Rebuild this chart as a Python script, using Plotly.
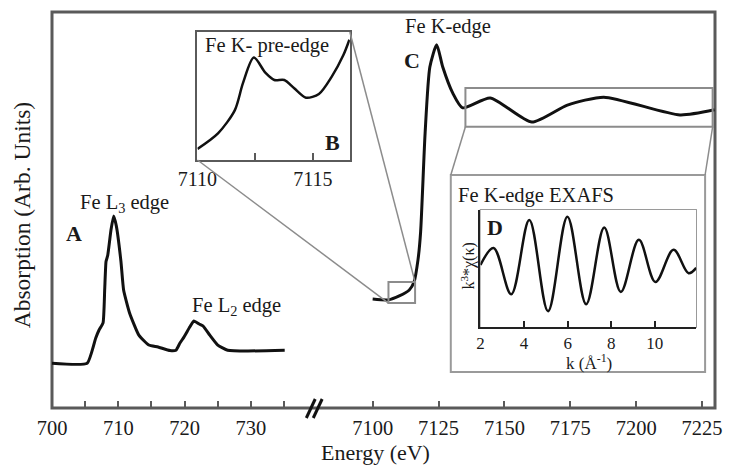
import plotly.graph_objects as go

# ---------------- data ----------------
# Fe L-edge (main panel, left segment)
l_energy = [700, 705.3, 706.6, 707.1, 707.7, 707.95, 708.15, 708.4, 708.9, 709.3, 709.7, 710.4, 710.8,
            711.7, 713.1, 714.6, 716.0, 717.8, 718.7, 719.3, 719.9, 720.8, 721.4, 722.2, 722.8,
            723.8, 725.0, 726.5, 729.5, 735.1]
l_abs = [0.113, 0.113, 0.177, 0.197, 0.215, 0.30, 0.37, 0.385, 0.45, 0.485, 0.46, 0.37, 0.298,
         0.24, 0.184, 0.159, 0.154, 0.145, 0.146, 0.164, 0.179, 0.205, 0.220, 0.212, 0.207,
         0.184, 0.159, 0.146, 0.144, 0.146]

# Fe K-edge (main panel, right segment)
k_energy = [7100, 7106, 7110.1, 7113.9, 7115.7, 7117.2, 7118.2, 7119.9, 7121.7, 7124.3, 7126.6,
            7130.4, 7134.1, 7144.6, 7160.4, 7173.9, 7187.7, 7216.6, 7229.7]
k_abs = [0.275, 0.273, 0.283, 0.298, 0.318, 0.374, 0.445, 0.694, 0.861, 0.917, 0.861,
         0.795, 0.758, 0.783, 0.722, 0.765, 0.785, 0.740, 0.753]

# Inset B: pre-edge
pre_energy = [7110, 7110.9, 7111.62, 7111.97, 7112.44, 7112.95, 7113.33, 7113.76, 7114.19,
              7114.7, 7115.26, 7115.81, 7116.32, 7116.58]
pre_abs = [0.086, 0.21, 0.39, 0.60, 0.80, 0.68, 0.625, 0.625, 0.56, 0.487, 0.516, 0.65, 0.82, 0.94]

# Inset D: EXAFS
exafs_k = [2.0, 2.6, 3.41, 4.24, 5.1, 5.99, 6.85, 7.68, 8.44, 9.27, 10.03, 10.86, 11.55, 11.9]
exafs_chi = [0.06, 0.35, -0.44, 0.83, -0.73, 0.885, -0.61, 0.70, -0.40, 0.49, -0.23, 0.32, -0.08, 0.01]

main_ticks_left = [700, 705, 710, 715, 720, 725, 730, 735]
main_ticktext_left = ["700", "", "710", "", "720", "", "730", ""]
main_ticks_right = [7100, 7125, 7150, 7175, 7200, 7225]
pre_ticks = [7110, 7112.5, 7115]
pre_ticktext = ["7110", "", "7115"]
exafs_ticks = [2, 4, 6, 8, 10]

# ---------------- layout geometry ----------------
W, H = 732, 467
ML, MR, MT, MB = 52, 10, 12, 59
PW, PH = W - ML - MR, H - MT - MB


def pp(px, py):
    return (px - ML) / PW, (H - MB - py) / PH


FONT = "Liberation Serif"
TXT = "#1a1a1a"
FRAME = "#5a5a5a"
GRAY = "#8c8c8c"

dom1 = [0.0, 0.385]
rng1 = [700, 738.5]
dom2 = [0.395, 1.0]
rng2 = [7077.7, 7229.9]

bx0, by0 = pp(199, 160)
bx1, by1 = pp(353, 32)
dx0, dy0 = pp(485, 327)
dx1, dy1 = pp(703, 210)


def x2p(x):
    return dom2[0] + (x - rng2[0]) / (rng2[1] - rng2[0]) * (dom2[1] - dom2[0])


fig = go.Figure()
fig.add_trace(go.Scatter(x=l_energy, y=l_abs, mode="lines",
                         line=dict(color="#111111", width=3, shape="spline", smoothing=0.45),
                         xaxis="x", yaxis="y", hoverinfo="skip"))
fig.add_trace(go.Scatter(x=k_energy, y=k_abs, mode="lines",
                         line=dict(color="#111111", width=3, shape="spline", smoothing=0.6),
                         xaxis="x2", yaxis="y", hoverinfo="skip"))
fig.add_trace(go.Scatter(x=pre_energy, y=pre_abs, mode="lines",
                         line=dict(color="#111111", width=2.5, shape="spline", smoothing=0.8),
                         xaxis="x3", yaxis="y3", hoverinfo="skip"))
fig.add_trace(go.Scatter(x=exafs_k, y=exafs_chi, mode="lines",
                         line=dict(color="#111111", width=2.5, shape="spline", smoothing=1.0),
                         xaxis="x4", yaxis="y4", hoverinfo="skip"))

tickfont = dict(family=FONT, size=20.5, color=TXT)
fig.update_layout(
    width=W, height=H, margin=dict(l=ML, r=MR, t=MT, b=MB),
    paper_bgcolor="white", plot_bgcolor="white", showlegend=False,
    xaxis=dict(domain=dom1, range=rng1, tickvals=main_ticks_left, ticktext=main_ticktext_left,
               ticks="inside", ticklen=7, tickwidth=2, tickcolor=FRAME, showgrid=False,
               zeroline=False, showline=False, tickfont=tickfont, ticklabelstandoff=5),
    xaxis2=dict(domain=dom2, range=rng2, tickvals=main_ticks_right,
                ticks="inside", ticklen=7, tickwidth=2, tickcolor=FRAME, showgrid=False,
                zeroline=False, showline=False, tickfont=tickfont, ticklabelstandoff=5),
    yaxis=dict(domain=[0, 1], range=[0, 1], visible=False),
    xaxis3=dict(domain=[bx0, bx1], range=[7110, 7116.6], anchor="y3", tickvals=pre_ticks,
                ticktext=pre_ticktext, ticks="inside", ticklen=7, tickwidth=2, tickcolor=FRAME,
                showline=True, mirror=True, linecolor=FRAME, linewidth=2, showgrid=False,
                zeroline=False, tickfont=dict(family=FONT, size=20, color=TXT)),
    yaxis3=dict(domain=[by0, by1], range=[0, 1], anchor="x3", showticklabels=False,
                ticks="", showline=True, mirror=True, linecolor=FRAME, linewidth=2,
                showgrid=False, zeroline=False),
    xaxis4=dict(domain=[dx0, dx1], range=[2, 11.9], anchor="y4", tickvals=exafs_ticks,
                ticks="inside", ticklen=6, tickwidth=2, tickcolor="#222", showline=True,
                linecolor="#222", linewidth=2, showgrid=False, zeroline=False,
                tickfont=dict(family=FONT, size=17, color=TXT), ticklabelstandoff=0),
    yaxis4=dict(domain=[dy0, dy1], range=[-1, 1], anchor="x4", showticklabels=False,
                ticks="", showline=True, linecolor="#222", linewidth=2, showgrid=False,
                zeroline=False),
)

shapes = []
# main frame
shapes.append(dict(type="rect", xref="paper", yref="paper", x0=0, y0=0, x1=1, y1=1,
                   line=dict(color=FRAME, width=3), layer="below"))
# axis break marks
for off in (0, 7):
    a = pp(309 + off, 418)
    b = pp(318 + off, 399)
    shapes.append(dict(type="line", xref="paper", yref="paper", x0=a[0], y0=a[1], x1=b[0], y1=b[1],
                       line=dict(color="#111111", width=3)))
# inset D outer box
ox0, oy0 = pp(455, 372)
ox1, oy1 = pp(712, 175)
shapes.append(dict(type="rect", xref="paper", yref="paper", x0=ox0, y0=oy0, x1=ox1, y1=oy1,
                   line=dict(color="#9a9a9a", width=2), layer="below"))
# inset D inner box top/right
shapes.append(dict(type="rect", xref="paper", yref="paper", x0=dx0, y0=dy0, x1=dx1, y1=dy1,
                   line=dict(color="#7a7a7a", width=1.5), layer="below"))
# zoom box on pre-edge
pb = dict(x0=7106, x1=7116.1, y0=0.265, y1=0.318)
shapes.append(dict(type="rect", xref="x2", yref="y", **pb, line=dict(color=GRAY, width=2)))
# zoom box on EXAFS region
eb = dict(x0=7135.2, x1=7229, y0=0.710, y1=0.808)
shapes.append(dict(type="rect", xref="x2", yref="y", **eb, line=dict(color=GRAY, width=2)))
# connecting lines
conn = [
    ((bx0, by0), (x2p(pb["x0"]), pb["y0"])),
    ((bx1, by1), (x2p(pb["x1"]), pb["y1"])),
    ((x2p(eb["x0"]), eb["y0"]), (ox0, oy1)),
    ((x2p(eb["x1"]), eb["y0"]), (ox1, oy1)),
]
for (p0, p1) in conn:
    shapes.append(dict(type="line", xref="paper", yref="paper", x0=p0[0], y0=p0[1],
                       x1=p1[0], y1=p1[1], line=dict(color=GRAY, width=1.5)))
fig.update_layout(shapes=shapes)


def ann(text, px, py, size=20.5, xanchor="left", bold=False, angle=0):
    x, y = pp(px, py)
    t = f"<b>{text}</b>" if bold else text
    fig.add_annotation(text=t, x=x, y=y, xref="paper", yref="paper", showarrow=False,
                       xanchor=xanchor, yanchor="middle", textangle=angle,
                       font=dict(family=FONT, size=size, color=TXT))


ann("Fe K- pre-edge", 205, 45)
ann("B", 335, 142, size=22, xanchor="center", bold=True)
ann("Fe L<sub>3</sub> edge", 78, 203)
ann("A", 74, 233, size=22, xanchor="center", bold=True)
ann("Fe L<sub>2</sub> edge", 191, 306)
ann("Fe K-edge", 407, 26)
ann("C", 416, 60, size=22, xanchor="center", bold=True)
ann("Fe K-edge EXAFS", 460, 195)
ann("D", 500, 227, size=22, xanchor="center", bold=True)
ann("k (Å<sup>-1</sup>)", 595, 362, size=17, xanchor="center")
ann("k<sup>3</sup>*χ(κ)", 472, 266, size=16, xanchor="center", angle=-90)
ann("Energy (eV)", 379, 452, size=22, xanchor="center")
ann("Absorption (Arb. Units)", 22, 215, size=23.5, xanchor="center", angle=-90)

fig.write_html("out.html")
